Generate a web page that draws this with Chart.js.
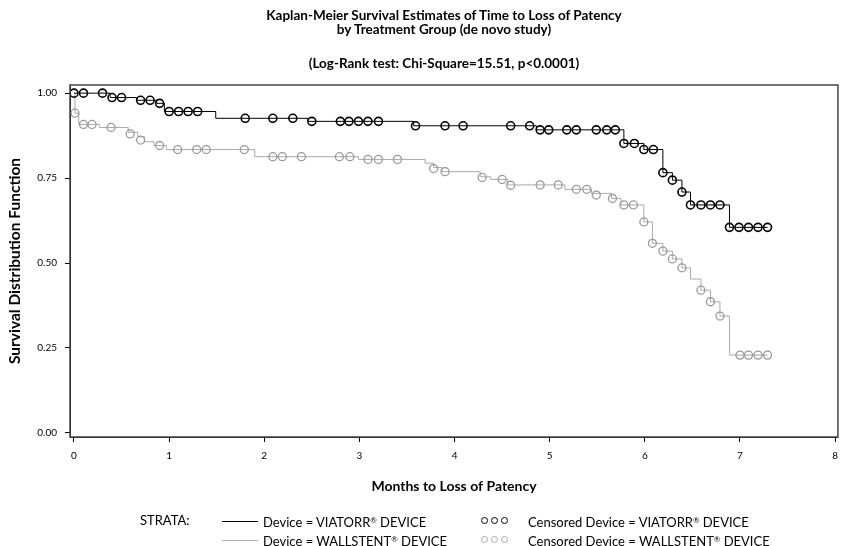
<!DOCTYPE html>
<html>
<head>
<meta charset="utf-8">
<script src="https://cdn.jsdelivr.net/npm/chart.js@4.4.1/dist/chart.umd.min.js"></script>
<style>
	body { margin: 0; background: #fff; font-family: Lato, "Open Sans", sans-serif; color: #000; }
	#wrap { position: relative; width: 846px; height: 546px; overflow: hidden; }
	#km-chart { position: absolute; left: 0; top: 0; }
	.title { position: absolute; left: 0; width: 888px; text-align: center; font-weight: bold; font-size: 13.5px; line-height: 15px; white-space: nowrap; }
	.leg { position: absolute; font-size: 13px; line-height: 15px; white-space: nowrap; }
	.reg { font-size: 0.6em; vertical-align: 0.45em; }
	.swatch { position: absolute; width: 36px; height: 1px; }
	.dot { position: absolute; width: 5px; height: 5px; border-radius: 50%; border: 1.3px solid; }
</style>
</head>
<body>
<div id="wrap">
	<canvas id="km-chart" width="846" height="546"></canvas>
	<div class="title" style="top:8px">Kaplan-Meier Survival Estimates of Time to Loss of Patency</div>
	<div class="title" style="top:22px">by Treatment Group (de novo study)</div>
	<div class="title" style="top:56px">(Log-Rank test: Chi-Square=15.51, p&lt;0.0001)</div>

	<div class="leg" style="left:140px;top:513px">STRATA:</div>
	<div class="swatch" style="left:222px;top:521px;background:#000"></div>
	<div class="leg" style="left:263px;top:513px">Device = VIATORR<span class="reg">®</span> DEVICE</div>
	<div class="swatch" style="left:222px;top:540px;background:#b0b0b0"></div>
	<div class="leg" style="left:263px;top:532px">Device = WALLSTENT<span class="reg">®</span> DEVICE</div>

	<div class="dot" style="left:481px;top:517px;border-color:#000"></div>
	<div class="dot" style="left:491px;top:517px;border-color:#000"></div>
	<div class="dot" style="left:501px;top:517px;border-color:#000"></div>
	<div class="leg" style="left:528px;top:513px">Censored Device = VIATORR<span class="reg">®</span> DEVICE</div>
	<div class="dot" style="left:481px;top:536px;border-color:#aaa"></div>
	<div class="dot" style="left:491px;top:536px;border-color:#aaa"></div>
	<div class="dot" style="left:501px;top:536px;border-color:#aaa"></div>
	<div class="leg" style="left:528px;top:532px">Censored Device = WALLSTENT<span class="reg">®</span> DEVICE</div>
</div>

<script>
// step curves (time in months, survival)
const viatorrTimes = [0, 0.38, 0.66, 0.87, 0.95, 1.49, 2.46, 3.57, 4.86, 5.78, 5.99, 6.19, 6.29, 6.39, 6.48, 6.89, 7.29];
const viatorrSurv = [1, 0.987, 0.979, 0.97, 0.946, 0.926, 0.917, 0.904, 0.892, 0.852, 0.834, 0.766, 0.744, 0.709, 0.671, 0.605, 0.605];

const wallstentTimes = [0, 0.01, 0.05, 0.27, 0.57, 0.67, 0.74, 0.84, 0.97, 1.9, 2.99, 3.69, 3.78, 3.87, 4.27, 4.38, 4.56, 5.16, 5.44, 5.65, 5.75, 5.99, 6.08, 6.19, 6.29, 6.39, 6.48, 6.59, 6.69, 6.79, 6.89, 7.29];
const wallstentSurv = [1, 0.941, 0.908, 0.899, 0.885, 0.872, 0.857, 0.846, 0.834, 0.813, 0.805, 0.794, 0.781, 0.769, 0.754, 0.746, 0.73, 0.717, 0.705, 0.69, 0.671, 0.621, 0.558, 0.535, 0.512, 0.486, 0.453, 0.42, 0.386, 0.344, 0.229, 0.229];

// censored observations
const viatorrCensTimes = [0, 0.1, 0.3, 0.4, 0.5, 0.7, 0.8, 0.9, 1.0, 1.1, 1.2, 1.3, 1.8, 2.09, 2.3, 2.5, 2.8, 2.89, 2.99, 3.09, 3.2, 3.59, 3.9, 4.09, 4.59, 4.79, 4.9, 4.99, 5.18, 5.28, 5.49, 5.6, 5.69, 5.78, 5.89, 5.99, 6.09, 6.19, 6.29, 6.39, 6.48, 6.59, 6.69, 6.79, 6.89, 6.99, 7.09, 7.19, 7.29];
const viatorrCensSurv = [1, 1, 1, 0.987, 0.987, 0.979, 0.979, 0.97, 0.946, 0.946, 0.946, 0.946, 0.926, 0.926, 0.926, 0.917, 0.917, 0.917, 0.917, 0.917, 0.917, 0.904, 0.904, 0.904, 0.904, 0.904, 0.892, 0.892, 0.892, 0.892, 0.892, 0.892, 0.892, 0.852, 0.852, 0.834, 0.834, 0.766, 0.744, 0.709, 0.671, 0.671, 0.671, 0.671, 0.605, 0.605, 0.605, 0.605, 0.605];

const wallstentCensTimes = [0.01, 0.1, 0.19, 0.39, 0.59, 0.7, 0.9, 1.09, 1.29, 1.39, 1.79, 2.09, 2.19, 2.39, 2.79, 2.9, 3.09, 3.2, 3.4, 3.78, 3.9, 4.29, 4.5, 4.59, 4.9, 5.09, 5.28, 5.39, 5.49, 5.66, 5.78, 5.88, 5.99, 6.08, 6.19, 6.29, 6.39, 6.59, 6.69, 6.79, 7.0, 7.09, 7.19, 7.29];
const wallstentCensSurv = [0.941, 0.908, 0.908, 0.899, 0.88, 0.862, 0.846, 0.834, 0.834, 0.834, 0.834, 0.813, 0.813, 0.813, 0.813, 0.813, 0.805, 0.805, 0.805, 0.778, 0.769, 0.752, 0.746, 0.729, 0.73, 0.73, 0.717, 0.717, 0.7, 0.69, 0.671, 0.671, 0.621, 0.558, 0.535, 0.512, 0.486, 0.42, 0.386, 0.344, 0.229, 0.229, 0.229, 0.229];

const xTicks = [0, 1, 2, 3, 4, 5, 6, 7, 8];
const yTicks = [0, 0.25, 0.5, 0.75, 1];

const colors = {
	viatorr: "#000",
	wallstent: "#aaa",
	wallstentMark: "#999",
	frame: "#444",
};

const toPoints = (xs, ys) => xs.map((x, i) => ({ x, y: ys[i] }));

// box around the plot area
const framePlugin = {
	id: "frame",
	afterDraw(chart) {
		const { ctx, chartArea: a } = chart;
		ctx.save();
		ctx.strokeStyle = colors.frame;
		ctx.lineWidth = 1.5;
		ctx.strokeRect(a.left, a.top, a.right - a.left, a.bottom - a.top);
		ctx.restore();
	},
};

const tickFont = { family: "Lato", size: 10 };
const xTitleFont = { family: "Lato", size: 14, weight: "bold" };
const yTitleFont = { family: "Lato", size: 15.5, weight: "bold" };

new Chart(document.getElementById("km-chart"), {
	type: "line",
	data: {
		datasets: [
			{
				type: "scatter",
				data: toPoints(viatorrCensTimes, viatorrCensSurv),
				borderColor: colors.viatorr,
				backgroundColor: "transparent",
				pointRadius: 4,
				pointBorderWidth: 1.6,
				showLine: false,
			},
			{
				type: "scatter",
				data: toPoints(wallstentCensTimes, wallstentCensSurv),
				borderColor: colors.wallstentMark,
				backgroundColor: "transparent",
				pointRadius: 4,
				pointBorderWidth: 1.3,
				showLine: false,
			},
			{
				data: toPoints(viatorrTimes, viatorrSurv),
				borderColor: colors.viatorr,
				borderWidth: 1,
				pointRadius: 0,
				stepped: true,
				fill: false,
			},
			{
				data: toPoints(wallstentTimes, wallstentSurv),
				borderColor: colors.wallstent,
				borderWidth: 1,
				pointRadius: 0,
				stepped: true,
				fill: false,
			},
		],
	},
	options: {
		responsive: false,
		animation: false,
		layout: { padding: { top: 85, right: 5, left: 0, bottom: 0 } },
		plugins: {
			legend: { display: false },
			tooltip: { enabled: false },
		},
		scales: {
			x: {
				type: "linear",
				min: -0.042,
				max: 8.03,
				afterBuildTicks: s => { s.ticks = xTicks.map(v => ({ value: v })); },
				afterFit: s => { s.height = 109; },
				grid: { drawOnChartArea: false, tickLength: 5, color: "#000" },
				border: { color: "#000", width: 1 },
				ticks: { padding: 8, font: tickFont, color: "#000", maxRotation: 0 },
				title: {
					display: true,
					text: "Months to Loss of Patency",
					font: xTitleFont,
					color: "#000",
					padding: { top: 0, bottom: 51 },
				},
			},
			y: {
				min: -0.012,
				max: 1.024,
				afterBuildTicks: s => { s.ticks = yTicks.map(v => ({ value: v })); },
				afterFit: s => { s.width = 70; },
				grid: { drawOnChartArea: false, tickLength: 5, color: "#000" },
				border: { color: "#000", width: 1 },
				ticks: {
					padding: 8,
					font: tickFont,
					color: "#000",
					callback: v => v.toFixed(2),
				},
				title: {
					display: true,
					text: "Survival Distribution Function",
					font: yTitleFont,
					color: "#000",
					padding: { top: 6, bottom: 0 },
				},
			},
		},
	},
	plugins: [framePlugin],
});
</script>
</body>
</html>
